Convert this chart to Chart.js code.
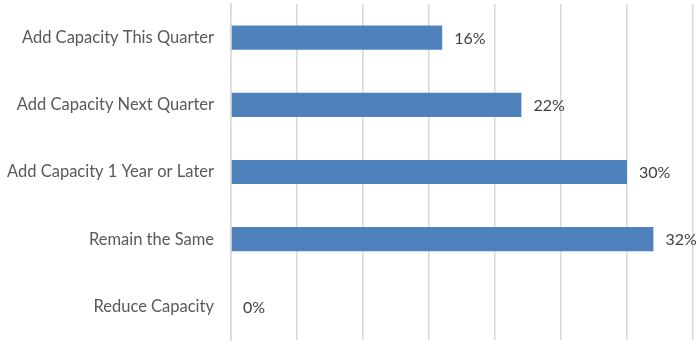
<!DOCTYPE html>
<html>
<head>
<meta charset="utf-8">
<script src="https://cdn.jsdelivr.net/npm/chart.js@4"></script>
<style>
  html, body { margin: 0; padding: 0; background: #fff; }
  #wrap { width: 699px; height: 341px; }
</style>
</head>
<body>
<div id="wrap"><canvas id="chartKapasitas"></canvas></div>
<script>
/* data */
const kategori = [
    "Add Capacity This Quarter",
    "Add Capacity Next Quarter",
    "Add Capacity 1 Year or Later",
    "Remain the Same",
    "Reduce Capacity"
];
const persen = [16, 22, 30, 32, 0];
const skalaMaks = 35;
const langkahGrid = 5;

/* label nilai di ujung batang */
const labelNilai = {
    id: 'labelNilai',
    afterDatasetsDraw(chart) {
        const ctx = chart.ctx;
        const meta = chart.getDatasetMeta(0);
        ctx.save();
        ctx.font = '16px Lato, "Open Sans", sans-serif';
        ctx.fillStyle = '#404040';
        ctx.textAlign = 'left';
        ctx.textBaseline = 'middle';
        meta.data.forEach(function (bar, i) {
            ctx.fillText(persen[i] + '%', bar.x + 12, bar.y + 1);
        });
        ctx.restore();
    }
};

// buang padding bawaan skala supaya area plot pas
function tanpaPadding(scale) {
    scale.paddingTop = 0;
    scale.paddingBottom = 0;
    scale.paddingLeft = 0;
    scale.paddingRight = 0;
}

const ctx = document.getElementById('chartKapasitas').getContext('2d');
const chartKapasitas = new Chart(ctx, {
    type: 'bar',
    data: {
        labels: kategori,
        datasets: [{
            data: persen,
            backgroundColor: '#4f81bd',
            borderWidth: 0,
            barPercentage: 0.72,
            categoryPercentage: 0.5
        }]
    },
    options: {
        indexAxis: 'y',
        responsive: true,
        maintainAspectRatio: false,
        animation: false,
        layout: { padding: { top: 4, right: 6, bottom: 1, left: 0 } },
        plugins: {
            legend: { display: false },
            tooltip: { enabled: false }
        },
        scales: {
            x: {
                min: 0,
                max: skalaMaks,
                afterFit: function (scale) {
                    scale.height = 0;
                    tanpaPadding(scale);
                },
                ticks: { display: false, stepSize: langkahGrid },
                grid: { color: '#d9d9d9', lineWidth: 1.5, drawTicks: false },
                border: { display: false }
            },
            y: {
                afterFit: function (scale) {
                    scale.width = 231;
                    tanpaPadding(scale);
                },
                ticks: {
                    color: '#595959',
                    font: { family: 'Lato, "Open Sans", sans-serif', size: 16.5 },
                    padding: 17
                },
                grid: { display: false, drawTicks: false },
                border: { display: true, color: '#d9d9d9', width: 1.5 }
            }
        }
    },
    plugins: [labelNilai]
});
</script>
</body>
</html>
